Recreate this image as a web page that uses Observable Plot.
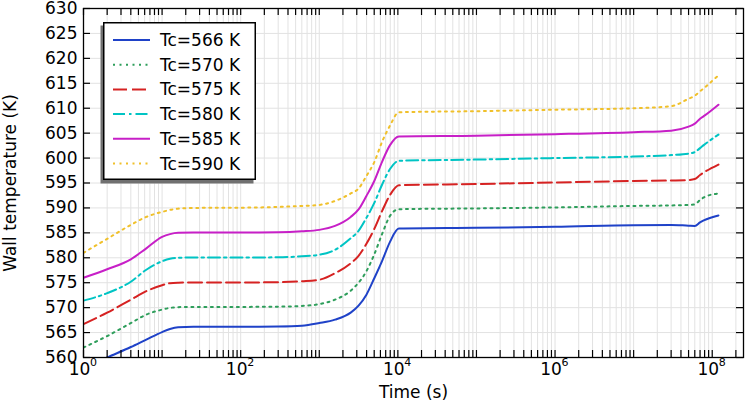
<!DOCTYPE html>
<html><head><meta charset="utf-8">
<script src="https://cdn.jsdelivr.net/npm/d3@7"></script>
<script src="https://cdn.jsdelivr.net/npm/@observablehq/plot@0.6"></script>
<style>
body{margin:0;background:#fff;}
#wrap{position:relative;width:747px;height:400px;font-family:"DejaVu Sans",sans-serif;}
#legend{position:absolute;}
</style></head><body><div id="wrap"></div>
<script>
// Time points (s)
const times = [1, 2, 4, 6.3, 10, 12.6, 16, 25, 100, 300, 600, 1000, 1585, 2512, 3162, 3981, 5012, 6310, 7943, 10300, 1e5, 1e6, 1e7, 3e7, 5e7, 6e7, 7e7, 7.8e7, 1.2e8];
// Wall temperature (K) per coolant temperature
const T566 = [557.8, 560.0, 562.1, 563.6, 565.1, 565.7, 566.05, 566.15, 566.15, 566.2, 566.35, 566.9, 567.6, 569.0, 570.4, 572.6, 575.9, 579.4, 583.2, 585.85, 586.0, 586.2, 586.55, 586.6, 586.45, 586.4, 587.1, 587.5, 588.5];
const T570 = [562.0, 564.3, 566.9, 568.6, 569.6, 569.95, 570.1, 570.15, 570.15, 570.2, 570.35, 570.7, 571.6, 573.4, 575.0, 577.3, 580.7, 584.8, 588.4, 589.75, 589.9, 590.1, 590.4, 590.5, 590.6, 590.7, 591.6, 592.1, 592.9];
const T575 = [566.7, 569.0, 571.6, 573.3, 574.5, 574.9, 575.0, 575.05, 575.05, 575.1, 575.3, 575.6, 576.9, 578.9, 580.4, 582.8, 585.8, 589.4, 592.6, 594.55, 594.8, 595.1, 595.4, 595.5, 595.6, 595.8, 596.6, 597.1, 598.7];
const T580 = [571.4, 572.9, 575.2, 577.6, 579.3, 579.8, 580.0, 580.05, 580.05, 580.1, 580.3, 580.6, 581.6, 583.9, 585.4, 588.0, 591.0, 594.7, 597.8, 599.45, 599.7, 600.0, 600.3, 600.6, 600.9, 601.2, 602.0, 602.6, 604.7];
const T585 = [576.0, 577.7, 579.7, 581.9, 584.2, 584.75, 585.0, 585.05, 585.05, 585.1, 585.3, 585.6, 586.4, 588.2, 589.7, 592.4, 595.4, 599.3, 602.6, 604.35, 604.5, 604.8, 605.2, 605.5, 606.3, 606.9, 607.9, 608.4, 610.7];
const T590 = [581.0, 583.8, 586.6, 588.2, 589.2, 589.6, 589.85, 590.0, 590.05, 590.2, 590.4, 590.6, 591.4, 592.9, 593.9, 596.4, 599.2, 603.3, 606.5, 609.2, 609.4, 609.7, 610.0, 610.4, 611.9, 612.5, 613.4, 614.0, 616.6];

const seriesNames = ["Tc=566 K", "Tc=570 K", "Tc=575 K", "Tc=580 K", "Tc=585 K", "Tc=590 K"];
const seriesTemps = [T566, T570, T575, T580, T585, T590];
const colors = ["#1f42c8", "#2e9e5b", "#d62222", "#00c4c4", "#c71fc7", "#f0c02a"];
const dashes = [null, "2 4.5", "14 5", "12 4 2.5 4", null, "2 4.5"];

const yTicks = d3.range(560, 631, 5);
const xLabelTicks = [1, 1e2, 1e4, 1e6, 1e8];
const xDomain = [1, 2.5e8];
const minorTicks = d3.range(0, 9).flatMap(k => d3.range(1, 10).map(m => m * Math.pow(10, k))).filter(v => v <= xDomain[1]);

const rows = seriesNames.flatMap((name, i) => times.map((t, j) => ({t, T: seriesTemps[i][j], name})));

const lines = seriesNames.map((name, i) => Plot.line(rows.filter(r => r.name === name), {
  x: "t", y: "T", stroke: colors[i], strokeWidth: 2, strokeDasharray: dashes[i] ?? undefined,
  curve: "monotone-x", clip: true
}));

const W = 747, H = 400, mL = 83, mR = 4, mT = 8, mB = 43;
const fw = W - mL - mR, fh = H - mT - mB;
const TL = 7; // inward tick length
const tk = {stroke: "black", strokeWidth: 1.2};

const chart = Plot.plot({
  width: W, height: H,
  marginLeft: mL, marginRight: mR, marginTop: mT, marginBottom: mB,
  style: {fontFamily: '"DejaVu Sans", sans-serif', fontSize: "17px", color: "black", background: "white"},
  x: {type: "log", domain: xDomain},
  y: {domain: [560, 630]},
  marks: [
    Plot.gridX(minorTicks, {stroke: "#e2e2e2", strokeOpacity: 1}),
    Plot.gridY(yTicks, {stroke: "#e2e2e2", strokeOpacity: 1}),
    ...lines,
    // inward ticks on all four sides
    Plot.ruleX(minorTicks, {x: d => d, insetTop: fh - TL, ...tk}),
    Plot.ruleX(minorTicks, {x: d => d, insetBottom: fh - TL, ...tk}),
    Plot.ruleY(yTicks, {y: d => d, insetRight: fw - TL, ...tk}),
    Plot.ruleY(yTicks, {y: d => d, insetLeft: fw - TL, ...tk}),
    Plot.axisX(xLabelTicks, {anchor: "bottom", tickSize: 0, tickPadding: 5, dx: -4, tickFormat: () => "10",
      label: "Time (s)", labelAnchor: "center", labelOffset: 40, labelArrow: "none"}),
    Plot.axisX(xLabelTicks, {anchor: "bottom", tickSize: 0, tickPadding: 1, dx: 10, fontSize: 11,
      tickFormat: d => String(Math.round(Math.log10(d))), label: null}),
    Plot.axisY(yTicks, {anchor: "left", tickSize: 0, tickPadding: 6,
      label: "Wall temperature (K)", labelAnchor: "center", labelOffset: 80, labelArrow: "none"}),
    Plot.frame({stroke: "black", strokeWidth: 1.3})
  ]
});

const wrap = document.getElementById("wrap");
wrap.appendChild(chart);

// Legend
const lw = 153, lh = 158;
const leg = d3.select(wrap).append("svg").attr("id", "legend")
  .attr("width", lw + 4).attr("height", lh + 4).style("left", "100px").style("top", "22px");
leg.append("rect").attr("x", 0.5).attr("y", 3.5).attr("width", lw).attr("height", lh).attr("fill", "#707070");
leg.append("rect").attr("x", 3.75).attr("y", 0.75).attr("width", lw - 1.5).attr("height", lh - 1.5)
  .attr("fill", "white").attr("stroke", "black").attr("stroke-width", 1.5);
seriesNames.forEach((name, i) => {
  const y = 18 + i * 24.7;
  leg.append("line").attr("x1", 13).attr("x2", 50).attr("y1", y).attr("y2", y)
    .attr("stroke", colors[i]).attr("stroke-width", 2).attr("stroke-dasharray", dashes[i]);
  leg.append("text").attr("x", 60).attr("y", y).attr("dominant-baseline", "central")
    .attr("font-family", '"DejaVu Sans", sans-serif').attr("font-size", 17).attr("fill", "black").text(name);
});
</script></body></html>
